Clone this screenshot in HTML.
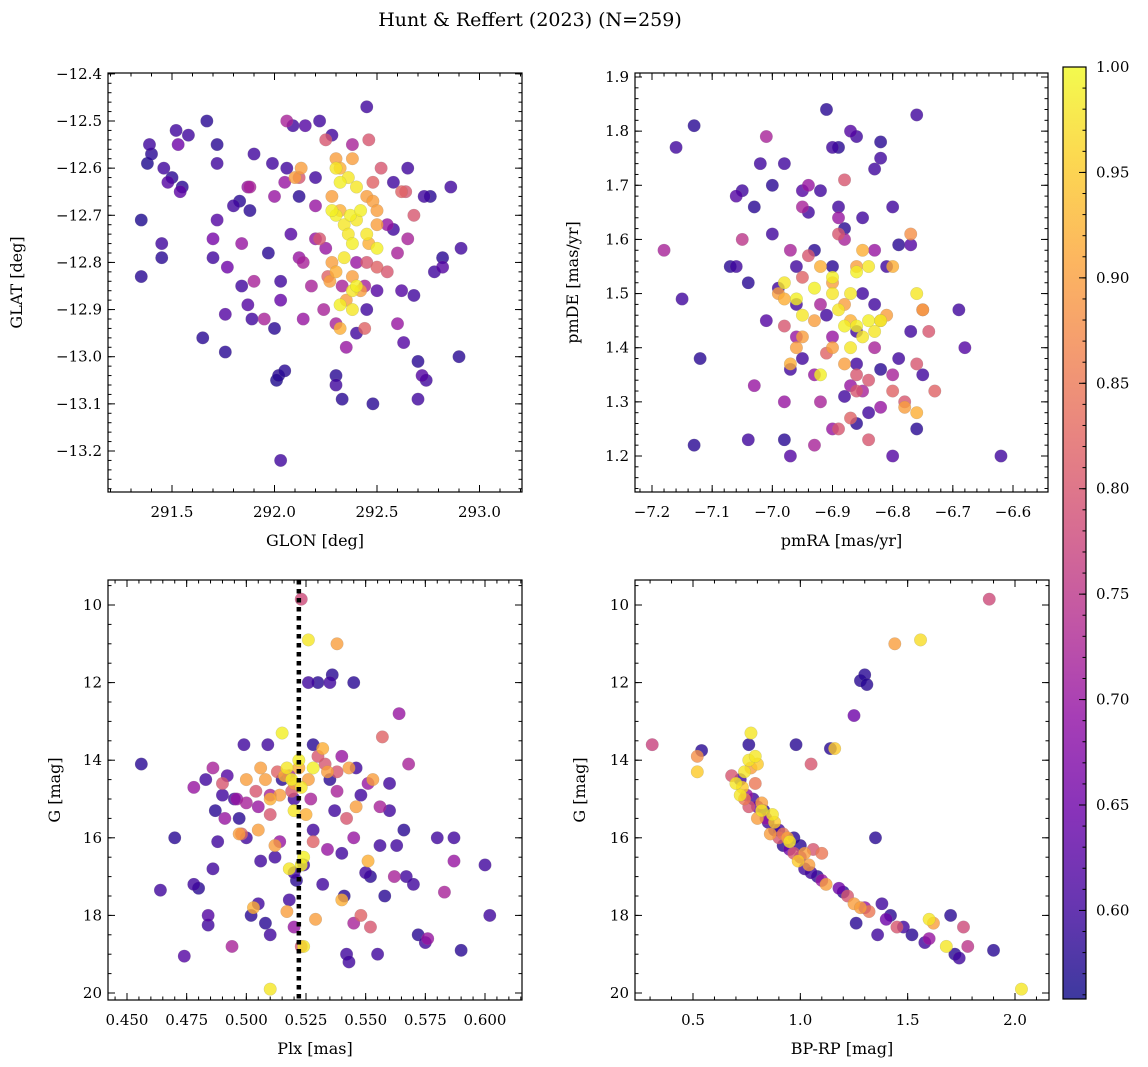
<!DOCTYPE html>
<html><head><meta charset="utf-8"><style>
html,body{margin:0;padding:0;background:#fff;}
svg{display:block;font-family:"DejaVu Serif","Liberation Serif",serif;}
</style></head><body>
<svg id="chart" width="1148" height="1067" viewBox="0 0 1148 1067" xmlns="http://www.w3.org/2000/svg">
<text x="530" y="26" font-size="19" text-anchor="middle">Hunt &amp; Reffert (2023) (N=259)</text>
</svg>
<script>
// ---- data (x, y, membership probability) ----
const skyPoints = [
[291.35,-12.71,.57],[291.35,-12.83,.58],[291.38,-12.59,.57],[291.39,-12.55,.6],[291.40,-12.57,.58],[291.45,-12.76,.6],[291.45,-12.79,.58],[291.46,-12.60,.6],[291.48,-12.63,.62],[291.50,-12.62,.58],[291.52,-12.52,.6],[291.53,-12.55,.65],[291.54,-12.65,.63],[291.55,-12.64,.58],[291.58,-12.53,.6],[291.65,-12.96,.58],[291.67,-12.50,.58],[291.70,-12.79,.6],[291.70,-12.75,.66],[291.72,-12.59,.6],[291.72,-12.55,.58],[291.72,-12.71,.62],[291.76,-12.99,.58],[291.76,-12.91,.62],[291.77,-12.81,.65],[291.80,-12.68,.6],[291.83,-12.67,.58],[291.84,-12.85,.6],[291.87,-12.89,.62],[291.88,-12.69,.58],[291.89,-12.92,.6],[291.90,-12.57,.6],[291.97,-12.78,.58],[291.99,-12.59,.6],[292.00,-12.94,.58],[292.01,-13.05,.57],[292.02,-13.04,.58],[292.03,-13.22,.6],[292.03,-12.84,.6],[292.03,-12.88,.64],[292.05,-13.03,.58],[292.06,-12.60,.6],[292.08,-12.74,.62],[292.09,-12.51,.6],[292.12,-12.66,.58],[292.15,-12.51,.62],[292.20,-12.62,.6],[292.22,-12.50,.6],[292.28,-12.53,.6],[292.30,-13.04,.58],[292.30,-13.06,.6],[292.33,-13.09,.58],[292.45,-12.47,.6],[292.48,-13.10,.58],[292.58,-12.63,.6],[292.63,-12.97,.62],[292.65,-12.60,.6],[292.70,-13.01,.58],[292.70,-13.09,.6],[292.72,-13.04,.62],[292.74,-13.05,.6],[292.73,-12.66,.6],[292.76,-12.66,.58],[292.78,-12.82,.6],[292.82,-12.79,.58],[292.82,-12.81,.62],[292.86,-12.64,.6],[292.90,-13.00,.58],[292.91,-12.77,.6],[292.62,-12.86,.62],[292.68,-12.87,.6],[292.58,-12.73,.6],[292.50,-12.86,.62],[292.45,-12.90,.6],[292.40,-12.95,.6],
[291.87,-12.64,.7],[291.88,-12.64,.72],[292.00,-12.66,.7],[291.95,-12.92,.72],[292.05,-12.63,.7],[292.06,-12.50,.72],[292.12,-12.79,.7],[292.14,-12.80,.72],[292.14,-12.92,.7],[292.18,-12.85,.72],[292.20,-12.75,.7],[292.24,-12.90,.72],[292.25,-12.77,.7],[292.30,-12.93,.72],[292.35,-12.98,.7],[292.38,-12.55,.72],[292.55,-12.72,.7],[292.60,-12.78,.72],[292.60,-12.93,.7],[292.65,-12.75,.72],[292.20,-12.68,.7],[292.33,-12.85,.72],[292.40,-12.80,.7],[292.44,-12.85,.72],[291.84,-12.76,.7],[291.90,-12.84,.72],
[292.25,-12.54,.8],[292.46,-12.54,.8],[292.52,-12.60,.8],[292.62,-12.65,.82],[292.64,-12.65,.8],[292.68,-12.70,.8],[292.22,-12.75,.8],[292.26,-12.83,.82],[292.45,-12.80,.8],[292.50,-12.81,.82],[292.55,-12.82,.8],[292.44,-12.94,.82],[292.12,-12.62,.8],[292.48,-12.63,.82],
[292.30,-12.58,.9],[292.38,-12.58,.9],[292.32,-12.60,.92],[292.10,-12.62,.9],[292.13,-12.60,.9],[292.28,-12.66,.9],[292.32,-12.69,.92],[292.45,-12.66,.9],[292.48,-12.67,.9],[292.50,-12.72,.9],[292.28,-12.80,.9],[292.30,-12.82,.92],[292.38,-12.83,.9],[292.42,-12.86,.9],[292.32,-12.94,.92],[292.35,-12.88,.9],[292.50,-12.69,.9],[292.46,-12.76,.92],[292.27,-12.84,.9],
[292.30,-12.60,.98],[292.32,-12.63,.99],[292.36,-12.62,.98],[292.30,-12.70,.99],[292.34,-12.72,.98],[292.37,-12.70,.99],[292.40,-12.71,.98],[292.42,-12.69,.99],[292.36,-12.74,.98],[292.38,-12.76,.99],[292.34,-12.79,.98],[292.32,-12.89,.99],[292.38,-12.86,.98],[292.40,-12.85,.99],[292.38,-12.90,.98],[292.50,-12.77,.99],[292.45,-12.74,.98],[292.28,-12.69,.99],[292.40,-12.64,.98]
];
const pmPoints = [
[-7.16,1.77,.6],[-7.13,1.81,.58],[-7.15,1.49,.6],[-7.12,1.38,.58],[-7.13,1.22,.58],[-7.07,1.55,.58],[-7.06,1.55,.6],[-7.06,1.68,.62],[-7.05,1.69,.6],[-7.04,1.52,.58],[-7.04,1.23,.6],[-7.03,1.66,.58],[-7.02,1.74,.6],[-7.01,1.45,.62],[-7.0,1.61,.6],[-7.0,1.70,.58],[-6.99,1.51,.6],[-6.98,1.74,.6],[-6.98,1.23,.58],[-6.97,1.20,.62],[-6.97,1.36,.6],[-6.96,1.55,.6],[-6.95,1.69,.62],[-6.94,1.65,.6],[-6.92,1.69,.6],[-6.91,1.84,.58],[-6.9,1.77,.6],[-6.89,1.77,.58],[-6.89,1.66,.6],[-6.88,1.62,.58],[-6.87,1.80,.62],[-6.86,1.79,.6],[-6.85,1.64,.6],[-6.83,1.73,.6],[-6.82,1.78,.58],[-6.82,1.75,.6],[-6.8,1.66,.6],[-6.79,1.59,.58],[-6.79,1.38,.6],[-6.77,1.43,.6],[-6.77,1.59,.62],[-6.76,1.83,.6],[-6.76,1.25,.58],[-6.8,1.20,.62],[-6.75,1.35,.6],[-6.69,1.47,.6],[-6.68,1.40,.62],[-6.62,1.20,.6],[-6.88,1.31,.6],[-6.86,1.26,.58],[-6.84,1.28,.6],[-6.83,1.48,.6],[-6.91,1.46,.6],[-6.93,1.58,.58],[-6.95,1.38,.6],[-6.96,1.48,.6],[-6.9,1.55,.58],[-6.86,1.43,.6],[-6.86,1.37,.6],[-6.82,1.36,.58],[-6.81,1.55,.6],[-6.85,1.50,.6],
[-7.18,1.58,.72],[-7.05,1.60,.75],[-7.03,1.33,.7],[-7.01,1.79,.72],[-6.98,1.30,.7],[-6.97,1.58,.72],[-6.96,1.42,.7],[-6.95,1.66,.72],[-6.94,1.70,.7],[-6.93,1.22,.72],[-6.93,1.35,.7],[-6.92,1.30,.72],[-6.9,1.25,.7],[-6.88,1.60,.72],[-6.87,1.33,.7],[-6.85,1.32,.72],[-6.83,1.58,.7],[-6.83,1.40,.72],[-6.82,1.29,.7],[-6.8,1.35,.72],[-6.89,1.64,.7],[-6.92,1.48,.72],[-6.9,1.42,.7],
[-6.94,1.57,.8],[-6.95,1.53,.82],[-6.88,1.71,.8],[-6.89,1.61,.8],[-6.87,1.27,.82],[-6.86,1.32,.8],[-6.84,1.34,.8],[-6.84,1.23,.8],[-6.80,1.32,.82],[-6.78,1.30,.8],[-6.76,1.37,.8],[-6.75,1.47,.82],[-6.74,1.43,.8],[-6.73,1.32,.82],[-6.98,1.44,.8],[-6.91,1.39,.82],[-6.89,1.25,.8],[-6.86,1.35,.8],
[-6.99,1.50,.9],[-6.98,1.49,.92],[-6.95,1.42,.9],[-6.93,1.45,.9],[-6.92,1.55,.92],[-6.9,1.52,.9],[-6.88,1.48,.9],[-6.86,1.55,.9],[-6.85,1.58,.92],[-6.82,1.45,.9],[-6.81,1.46,.9],[-6.8,1.55,.92],[-6.77,1.61,.88],[-6.78,1.29,.9],[-6.76,1.28,.92],[-6.75,1.47,.9],[-6.96,1.40,.9],[-6.97,1.37,.92],[-6.9,1.40,.9],[-6.88,1.37,.9],[-6.87,1.45,.92],
[-6.98,1.52,.98],[-6.96,1.49,.99],[-6.95,1.46,.98],[-6.93,1.51,.99],[-6.9,1.50,.98],[-6.9,1.53,.99],[-6.89,1.47,.98],[-6.88,1.44,.99],[-6.87,1.50,.98],[-6.86,1.44,.99],[-6.85,1.42,.98],[-6.84,1.45,.99],[-6.83,1.43,.98],[-6.82,1.45,.99],[-6.84,1.55,.98],[-6.86,1.54,.99],[-6.76,1.50,.98],[-6.92,1.35,.99],[-6.87,1.40,.98]
];
const plxPoints = [
[0.456,14.1,.58],[0.464,17.35,.6],[0.470,16.0,.58],[0.474,19.05,.62],[0.478,17.2,.6],[0.480,17.3,.58],[0.483,14.5,.6],[0.484,18.0,.62],[0.484,18.25,.6],[0.486,16.8,.6],[0.487,15.3,.58],[0.488,16.1,.6],[0.490,14.9,.6],[0.492,14.4,.62],[0.495,15.0,.6],[0.497,15.5,.58],[0.499,13.6,.6],[0.500,16.0,.6],[0.502,18.0,.58],[0.505,17.7,.6],[0.506,16.6,.6],[0.508,18.2,.58],[0.509,13.6,.6],[0.510,18.5,.6],[0.512,16.5,.6],[0.515,14.5,.58],[0.518,17.6,.6],[0.520,16.9,.6],[0.521,17.1,.58],[0.524,16.7,.6],[0.526,12.0,.6],[0.528,13.6,.58],[0.528,15.8,.6],[0.530,12.0,.58],[0.532,17.2,.6],[0.535,12.0,.6],[0.536,11.8,.58],[0.537,15.3,.6],[0.540,16.4,.6],[0.541,17.5,.58],[0.542,19.0,.6],[0.543,19.2,.6],[0.545,12.0,.58],[0.546,14.2,.6],[0.550,16.9,.6],[0.552,17.0,.58],[0.555,19.0,.6],[0.556,16.2,.6],[0.558,17.5,.58],[0.560,15.3,.6],[0.563,16.2,.6],[0.566,15.8,.58],[0.567,17.0,.6],[0.570,17.2,.6],[0.572,18.5,.58],[0.575,18.7,.6],[0.580,16.0,.6],[0.587,16.0,.6],[0.590,18.9,.58],[0.600,16.7,.6],[0.602,18.0,.6],[0.560,14.6,.6],[0.548,14.9,.6],[0.535,14.5,.58],[0.520,15.0,.6],
[0.478,14.7,.7],[0.486,14.2,.72],[0.491,15.5,.7],[0.494,18.8,.72],[0.496,15.0,.7],[0.500,15.1,.72],[0.505,15.2,.7],[0.510,14.9,.72],[0.514,16.1,.7],[0.518,14.4,.72],[0.520,18.3,.7],[0.527,15.0,.72],[0.534,16.3,.7],[0.538,14.8,.72],[0.540,13.9,.7],[0.545,18.2,.72],[0.551,14.6,.7],[0.556,15.2,.72],[0.564,12.8,.7],[0.568,14.1,.72],[0.576,18.6,.7],[0.583,17.4,.72],[0.587,16.6,.7],[0.562,17.0,.72],[0.545,16.0,.7],
[0.490,14.6,.8],[0.498,15.9,.82],[0.504,14.8,.8],[0.510,15.4,.8],[0.513,14.3,.82],[0.519,14.8,.8],[0.523,18.8,.8],[0.528,16.1,.82],[0.533,14.1,.8],[0.538,14.3,.8],[0.548,18.0,.82],[0.552,18.3,.8],[0.557,13.4,.82],[0.542,15.5,.8],[0.530,13.9,.8],[0.523,9.85,.78],
[0.497,15.9,.9],[0.500,14.5,.9],[0.503,17.8,.92],[0.506,14.2,.9],[0.508,14.5,.9],[0.510,15.0,.92],[0.512,16.2,.9],[0.514,14.9,.9],[0.516,14.4,.92],[0.517,17.9,.9],[0.520,14.6,.9],[0.522,14.2,.92],[0.526,14.5,.9],[0.529,18.1,.9],[0.532,13.7,.92],[0.534,14.3,.9],[0.538,11.0,.9],[0.540,17.6,.92],[0.543,14.2,.9],[0.546,15.2,.9],[0.551,16.6,.92],[0.553,14.5,.9],[0.505,15.8,.9],[0.525,15.4,.92],
[0.510,19.9,.98],[0.515,13.3,.99],[0.517,14.2,.98],[0.519,14.5,.99],[0.520,15.3,.98],[0.522,14.0,.99],[0.523,14.7,.98],[0.524,16.5,.99],[0.526,10.9,.98],[0.523,16.7,.99],[0.518,16.8,.98],[0.528,14.2,.99],[0.524,18.8,.98]
];
const plxMarker = [0.522];
const cmdPoints = [
[0.31,13.6,.77],[0.52,13.9,.88],[0.52,14.3,.95],[0.54,13.75,.58],[0.72,14.5,.6],[0.73,14.7,.95],[0.74,14.3,.98],[0.75,14.9,.7],[0.76,13.6,.58],[0.76,14.0,.98],[0.77,13.3,.98],[0.77,14.2,.9],[0.78,15.0,.6],[0.79,13.9,.98],[0.79,14.6,.85],[0.8,15.2,.65],[0.8,14.1,.95],[0.82,15.1,.9],[0.83,15.3,.58],[0.84,15.5,.7],[0.85,15.6,.6],[0.86,15.9,.9],[0.87,15.4,.98],[0.88,15.8,.6],[0.9,16.0,.8],[0.92,16.2,.58],[0.94,16.0,.9],[0.95,16.3,.65],[0.97,16.0,.58],[0.97,16.4,.8],[0.98,13.6,.58],[0.99,16.6,.95],[1.0,16.5,.7],[1.02,16.8,.6],[1.04,16.7,.9],[1.05,14.1,.8],[1.06,16.3,.8],[1.08,17.0,.58],[1.1,16.4,.85],[1.1,17.1,.7],[1.12,17.2,.9],[1.14,13.7,.58],[1.16,13.7,.95],[1.18,17.3,.65],[1.2,17.4,.58],[1.22,17.5,.8],[1.25,17.7,.9],[1.26,18.2,.58],[1.28,17.8,.9],[1.3,17.8,.7],[1.32,17.9,.85],[1.35,16.0,.58],[1.36,18.5,.6],[1.38,17.7,.6],[1.4,18.1,.65],[1.42,18.0,.58],[1.45,18.3,.8],[1.48,18.3,.6],[1.52,18.5,.58],[1.58,18.7,.6],[1.6,18.1,.98],[1.6,18.6,.7],[1.62,18.2,.9],[1.68,18.8,.98],[1.7,18.0,.58],[1.72,19.0,.58],[1.74,19.1,.6],[1.76,18.3,.78],[1.78,18.8,.75],[1.9,18.9,.58],[2.03,19.9,.98],[1.28,11.95,.58],[1.3,11.8,.58],[1.31,12.05,.58],[1.25,12.85,.65],[1.88,9.85,.78],[1.44,11.0,.9],[1.56,10.9,.97],[0.68,14.4,.8],[0.7,14.6,.98],[0.72,14.9,.98],[0.74,15.0,.85],[0.76,15.2,.8],[0.8,15.5,.9],[0.9,15.8,.6],[1.0,16.2,.58],[1.05,16.9,.6],[0.95,16.1,.98],[0.88,15.6,.95],[0.92,15.9,.85],[1.02,16.4,.9],[0.82,15.3,.98]
];
const skyXTicks = [291.5,292.0,292.5,293.0];
const skyYTicks = [-12.4,-12.5,-12.6,-12.7,-12.8,-12.9,-13.0,-13.1,-13.2];
const pmXTicks = [-7.2,-7.1,-7.0,-6.9,-6.8,-6.7,-6.6];
const pmYTicks = [1.2,1.3,1.4,1.5,1.6,1.7,1.8,1.9];
const plxXTicks = [0.450,0.475,0.500,0.525,0.550,0.575,0.600];
const gTicks = [10,12,14,16,18,20];
const cmdXTicks = [0.5,1.0,1.5,2.0];
const cbarTicks = [0.60,0.65,0.70,0.75,0.80,0.85,0.90,0.95,1.00];
const cMin = 0.558, cMax = 1.0;

const NS = "http://www.w3.org/2000/svg";
const svg = document.getElementById('chart');
function mk(tag, attrs, parent){const e=document.createElementNS(NS,tag);for(const k in attrs)e.setAttribute(k,attrs[k]);(parent||svg).appendChild(e);return e;}
const plasma=[[13,8,135],[65,4,157],[106,0,168],[143,13,164],[177,42,144],[204,71,120],[225,100,98],[242,132,75],[252,166,54],[252,206,37],[240,249,33]];
function cmap(v){let t=(v-cMin)/(cMax-cMin);t=Math.max(0,Math.min(1,t));const f=t*10,i=Math.min(9,Math.floor(f)),r=f-i;const a=plasma[i],b=plasma[i+1];return `rgb(${Math.round(a[0]+(b[0]-a[0])*r)},${Math.round(a[1]+(b[1]-a[1])*r)},${Math.round(a[2]+(b[2]-a[2])*r)})`;}
function lin(d0,d1,r0,r1){return v=>r0+(v-d0)/(d1-d0)*(r1-r0);}

function panel(cfg){
  const g=mk('g',{});
  
  
  const {L,R,T,B,sx,sy}=cfg;
  const pts=mk('g',{},g);
  
  
  const sorted=cfg.data.slice().sort((a,b)=>a[2]-b[2]);
  sorted.forEach(p=>{
    const c=mk('circle',{cx:sx(p[0]),cy:sy(p[1]),r:6.3,fill:cmap(p[2]),'fill-opacity':0.8,stroke:'#888','stroke-opacity':0.35,'stroke-width':0.5},pts);
    
    
  });
  if(cfg.vline){cfg.vline.forEach(v=>{const l=mk('line',{x1:sx(v),x2:sx(v),y1:T,y2:B,stroke:'#000','stroke-width':4.5,'stroke-dasharray':'4.5 4.5'},g);
    
    });}
  const ax=mk('g',{stroke:'#000','stroke-width':1},g);
  for(let v=cfg.xmin0;v<=cfg.xmax0+1e-9;v+=cfg.xminor){const x=sx(v);if(x<L||x>R)continue;mk('line',{x1:x,x2:x,y1:B,y2:B-3.5},ax);mk('line',{x1:x,x2:x,y1:T,y2:T+3.5},ax);}
  for(let v=cfg.ymin0;v<=cfg.ymax0+1e-9;v+=cfg.yminor){const y=sy(v);if(y<T||y>B)continue;mk('line',{x1:L,x2:L+3.5,y1:y,y2:y},ax);mk('line',{x1:R,x2:R-3.5,y1:y,y2:y},ax);}
  cfg.xt.forEach(v=>{const x=sx(v);if(x<L-1||x>R+1)return;mk('line',{x1:x,x2:x,y1:B,y2:B-7},ax);mk('line',{x1:x,x2:x,y1:T,y2:T+7},ax);
    const t=mk('text',{x:x,y:B+25,'font-size':15,'text-anchor':'middle'},g);t.textContent=cfg.xf(v).replace('-','\u2212');
    
    });
  cfg.yt.forEach(v=>{const y=sy(v);if(y<T-1||y>B+1)return;mk('line',{x1:L,x2:L+7,y1:y,y2:y},ax);mk('line',{x1:R,x2:R-7,y1:y,y2:y},ax);
    const t=mk('text',{x:L-6,y:y+5,'font-size':15,'text-anchor':'end'},g);t.textContent=cfg.yf(v).replace('-','\u2212');
    
    });
  mk('rect',{x:L,y:T,width:R-L,height:B-T,fill:'none',stroke:'#000','stroke-width':1.2},g);
  const xl=mk('text',{x:(L+R)/2,y:B+54,'font-size':16,'text-anchor':'middle'},g);xl.textContent=cfg.xlabel;
  
  
  const yx=cfg.ylx, yy=(T+B)/2;
  const yl=mk('text',{x:yx,y:yy,'font-size':16,'text-anchor':'middle',transform:`rotate(-90 ${yx} ${yy})`},g);yl.textContent=cfg.ylabel;
  
  
}

panel({name:'sky-position-panel',L:108,R:522,T:73,B:492,data:skyPoints,
  sx:lin(291.5,292.5,172,377),sy:lin(-12.5,-13.2,121,451),
  xt:skyXTicks,yt:skyYTicks,xf:v=>v.toFixed(1),yf:v=>v.toFixed(1),
  xmin0:291.2,xmax0:293.2,xminor:0.1,ymin0:-13.3,ymax0:-12.39,yminor:0.02,
  xlabel:'GLON [deg]',ylabel:'GLAT [deg]',ylx:22});
panel({name:'proper-motion-panel',L:635,R:1048,T:73,B:492,data:pmPoints,
  sx:lin(-7.2,-6.6,652,1013),sy:lin(1.9,1.2,77,456),
  xt:pmXTicks,yt:pmYTicks,xf:v=>v.toFixed(1),yf:v=>v.toFixed(1),
  xmin0:-7.3,xmax0:-6.5,xminor:0.02,ymin0:1.1,ymax0:1.95,yminor:0.02,
  xlabel:'pmRA [mas/yr]',ylabel:'pmDE [mas/yr]',ylx:578});
panel({name:'parallax-magnitude-panel',L:108,R:522,T:580,B:1000,data:plxPoints,vline:plxMarker,
  sx:lin(0.45,0.6,127,485),sy:lin(10,20,605,993),
  xt:plxXTicks,yt:gTicks,xf:v=>v.toFixed(3),yf:v=>String(v),
  xmin0:0.44,xmax0:0.62,xminor:0.005,ymin0:9,ymax0:21,yminor:0.5,
  xlabel:'Plx [mas]',ylabel:'G [mag]',ylx:60});
panel({name:'color-magnitude-panel',L:635,R:1049,T:580,B:1000,data:cmdPoints,
  sx:lin(0.5,2.0,693,1015),sy:lin(10,20,605,993),
  xt:cmdXTicks,yt:gTicks,xf:v=>v.toFixed(1),yf:v=>String(v),
  xmin0:0.2,xmax0:2.2,xminor:0.1,ymin0:9,ymax0:21,yminor:0.5,
  xlabel:'BP-RP [mag]',ylabel:'G [mag]',ylx:585});

// colorbar
const cb=mk('g',{});


const defs=mk('defs',{},cb);
const lg=mk('linearGradient',{id:'plasmaGrad',x1:0,y1:1,x2:0,y2:0},defs);
plasma.forEach((c,i)=>mk('stop',{offset:i/10,'stop-color':`rgb(${c[0]},${c[1]},${c[2]})`},lg));
const CT=67,CB=999,CL=1063,CR=1086;
const cy=lin(cMax,cMin,CT,CB);
mk('rect',{x:CL,y:CT,width:CR-CL,height:CB-CT,fill:'url(#plasmaGrad)','fill-opacity':0.8},cb);
for(let v=0.56;v<=1.0001;v+=0.01){const y=cy(v);mk('line',{x1:CR,x2:CR-3.5,y1:y,y2:y,stroke:'#000'},cb);}
cbarTicks.forEach(v=>{const y=cy(v);mk('line',{x1:CR,x2:CR-7,y1:y,y2:y,stroke:'#000'},cb);
  const t=mk('text',{x:CR+10,y:y+5,'font-size':15},cb);t.textContent=v.toFixed(2);
  
  });
mk('rect',{x:CL,y:CT,width:CR-CL,height:CB-CT,fill:'none',stroke:'#000','stroke-width':1.2},cb);
</script>
</body></html>
